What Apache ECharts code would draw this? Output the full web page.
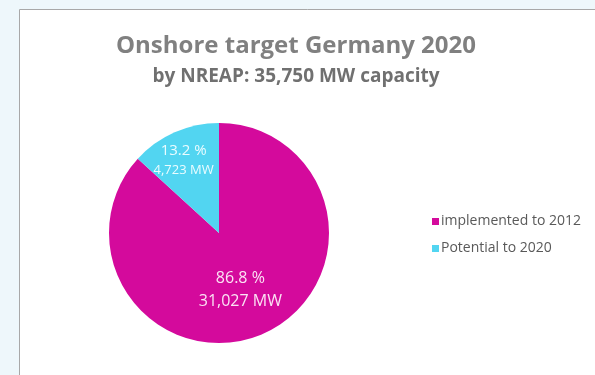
<!DOCTYPE html>
<html>
<head>
<meta charset="utf-8">
<title>Onshore target Germany 2020</title>
<script src="https://cdn.jsdelivr.net/npm/echarts@6/dist/echarts.min.js"></script>
<style>
  html, body { margin: 0; padding: 0; background: #eef7fb; }
  #chart { width: 595px; height: 375px; }
</style>
</head>
<body>
<div id="chart"></div>
<script>
// Onshore wind capacity vs. the NREAP 2020 target (MW)
const categories = ['implemented to 2012', 'Potential to 2020'];
const capacityMW = [31027, 4723];
const sliceColors = ['#d40a9c', '#52d5f1'];
const titleText = 'Onshore target Germany 2020';
const subtitleText = 'by NREAP: 35,750 MW capacity';

const FONT = '"Open Sans", Lato, sans-serif';

const fmtMW = v => v.toLocaleString('en-US');

// per-slice label typography
const labelRich = [
  { pct: { fontSize: 16, color: '#fbe3f4', fontFamily: FONT, lineHeight: 25 },
    mw:  { fontSize: 16, color: '#fbe3f4', fontFamily: FONT, lineHeight: 22 } },
  { pct: { fontSize: 15, color: '#eafcff', fontFamily: FONT, lineHeight: 20 },
    mw:  { fontSize: 13, color: '#eafcff', fontFamily: FONT, lineHeight: 19 } }
];

const chart = echarts.init(document.getElementById('chart'), null, { renderer: 'canvas' });

chart.setOption({
  backgroundColor: '#eef7fb',
  animation: false,
  graphic: [{
    type: 'rect',
    shape: { x: 19.5, y: 9.5, width: 620, height: 420 },
    style: { fill: '#ffffff', stroke: '#a8a8a8', lineWidth: 1 },
    z: -10
  }],
  title: [
    {
      text: titleText,
      left: 291, top: 29, textAlign: 'center',
      textStyle: { fontFamily: FONT, fontWeight: 'bold', fontSize: 24, color: '#808080' }
    },
    {
      text: subtitleText,
      left: 291, top: 62, textAlign: 'center',
      textStyle: { fontFamily: FONT, fontWeight: 'bold', fontSize: 19, color: '#707070' }
    }
  ],
  legend: {
    orient: 'vertical',
    left: 427, top: 209,
    itemWidth: 7, itemHeight: 7, itemGap: 12,
    icon: 'rect',
    textStyle: { fontFamily: FONT, fontSize: 14, lineHeight: 15, color: '#595959', padding: [0, 0, 0, -3] },
    data: categories
  },
  series: [{
    type: 'pie',
    center: [219, 233],
    radius: 110,
    startAngle: 90,
    clockwise: true,
    silent: true,
    labelLine: { show: false },
    label: {
      position: 'inside',
      align: 'center',
      formatter: p => '{pct|' + p.percent.toFixed(1) + ' %}\n{mw|' + fmtMW(p.value) + ' MW}'
    },
    labelLayout: p => p.dataIndex === 1 ? { dx: -12, dy: -20 } : { dx: -2, dy: 3 },
    data: categories.map((name, i) => ({
      name,
      value: capacityMW[i],
      itemStyle: { color: sliceColors[i] },
      label: { rich: labelRich[i] }
    }))
  }]
});
</script>
</body>
</html>
